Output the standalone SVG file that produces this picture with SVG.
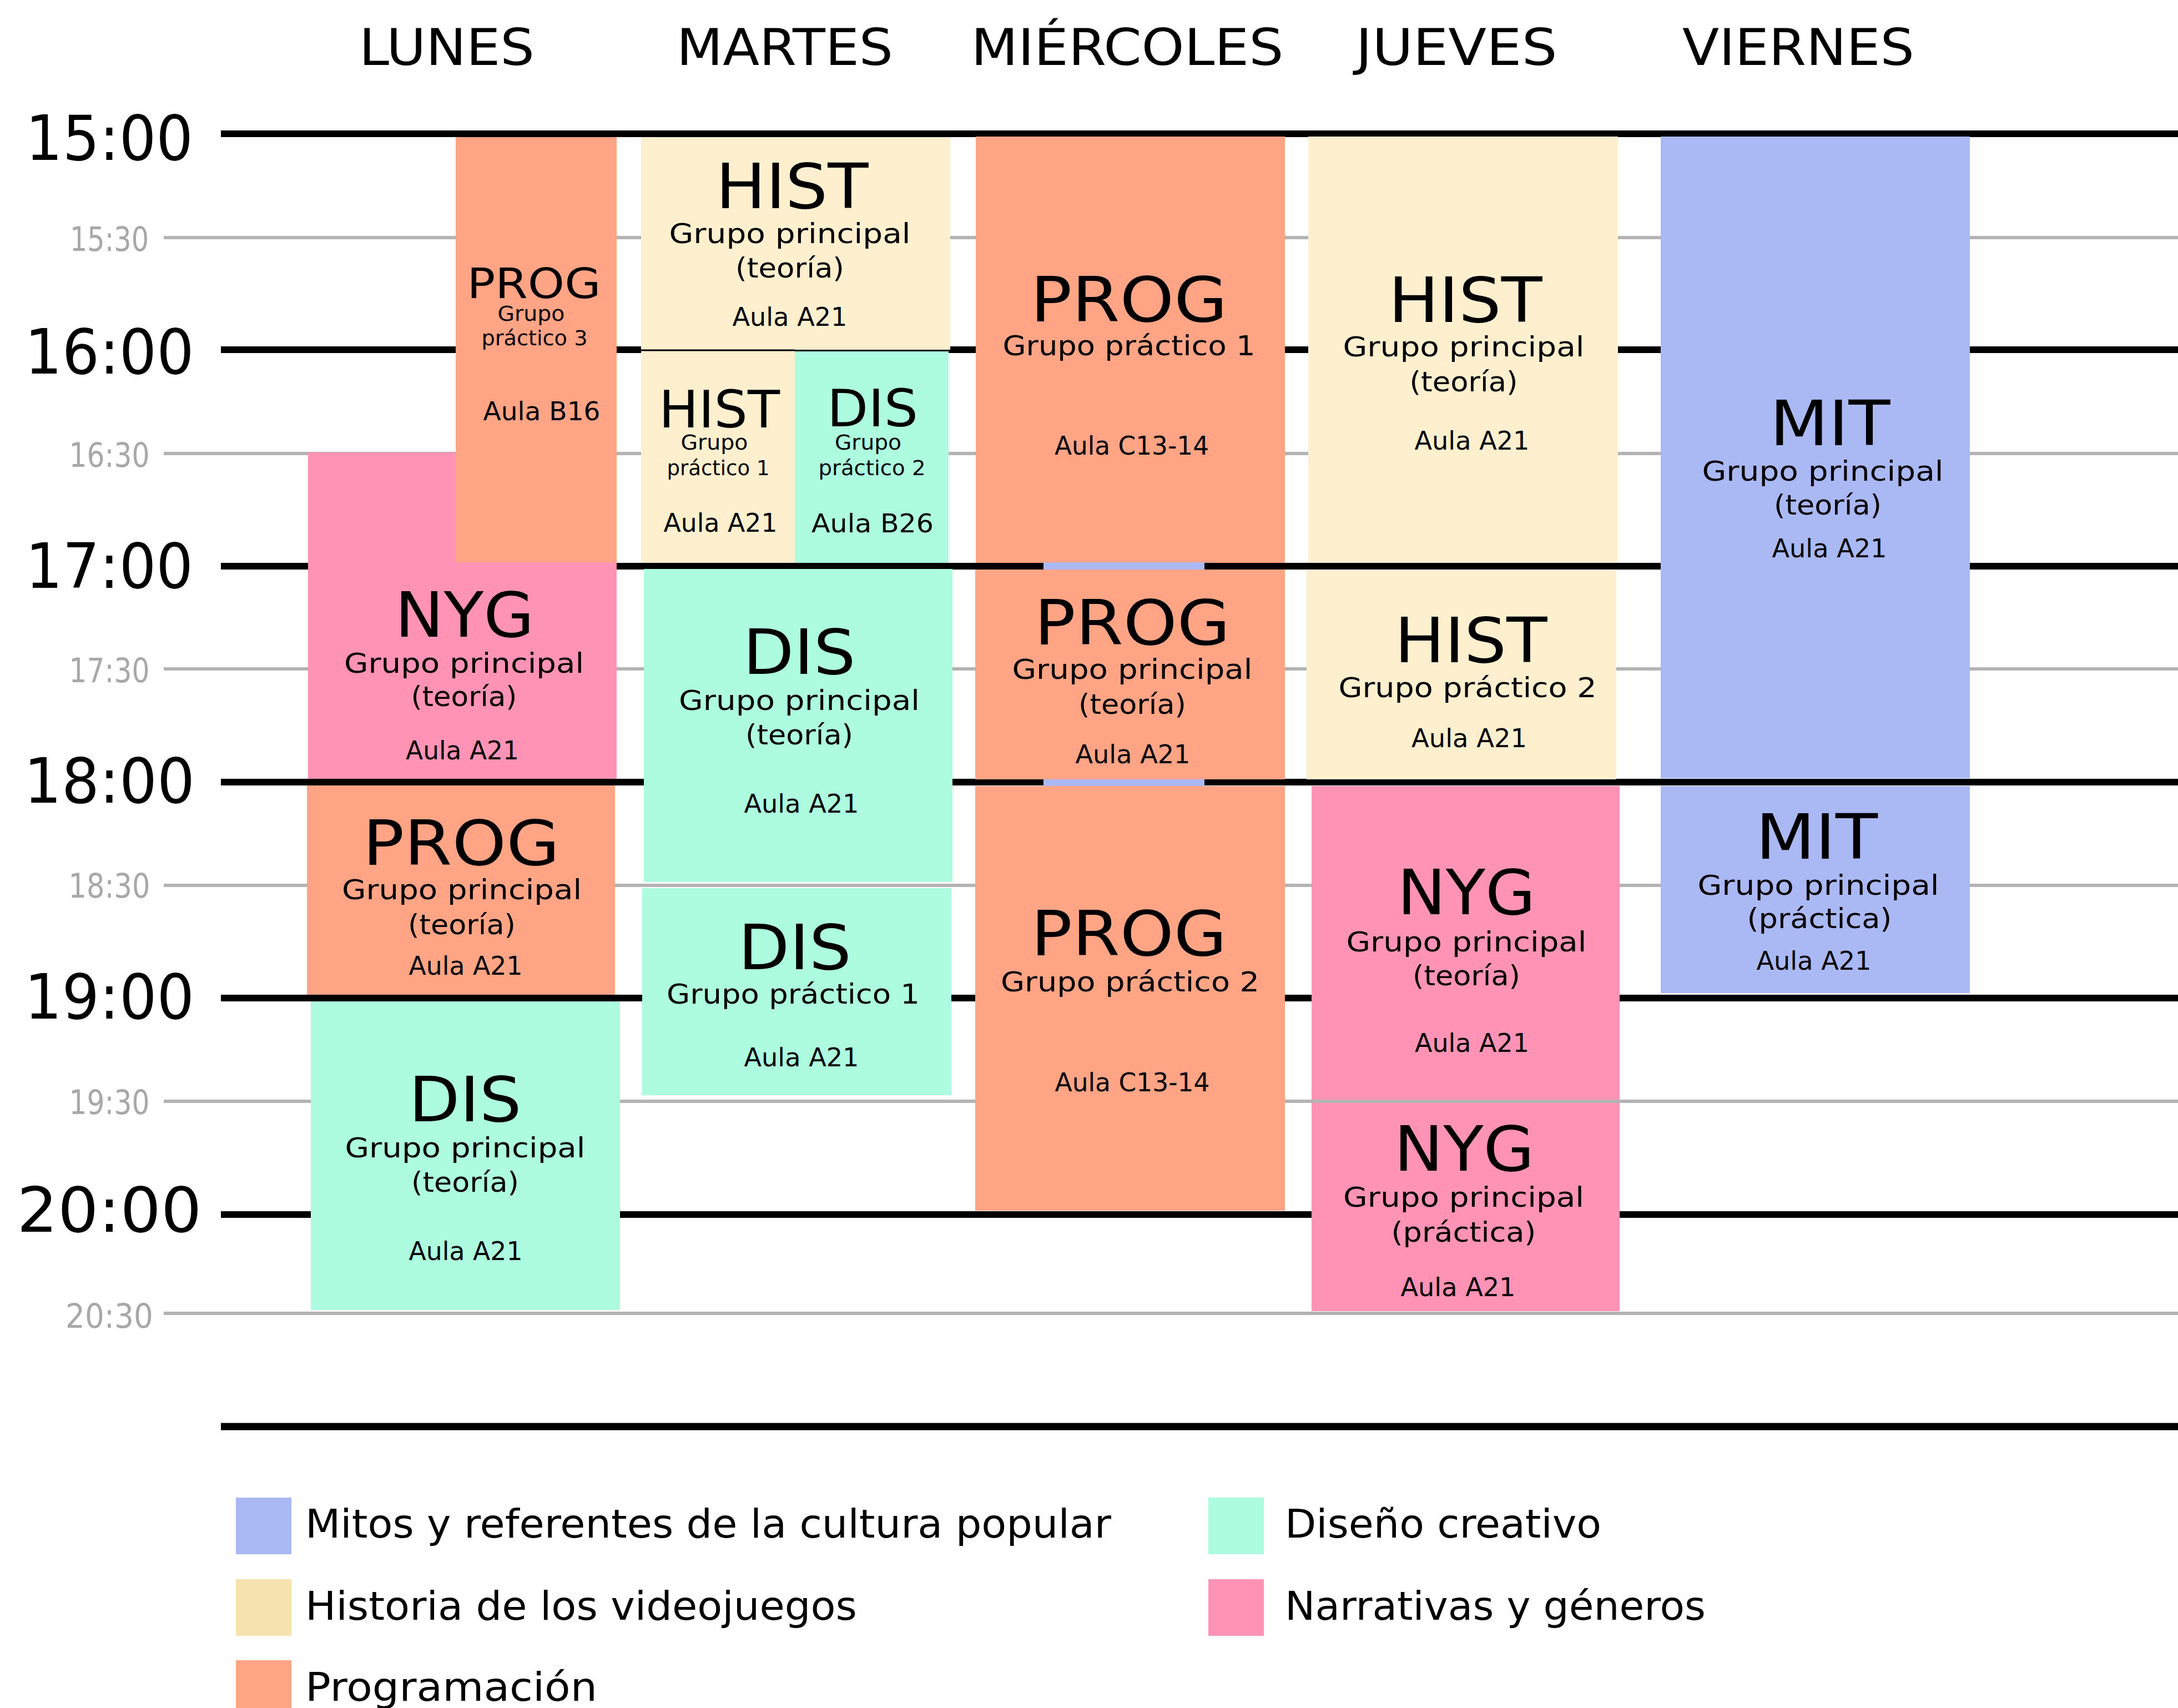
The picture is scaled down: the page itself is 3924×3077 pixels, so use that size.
<svg xmlns="http://www.w3.org/2000/svg" width="3924" height="3077" viewBox="0 0 3924 3077">
<style>
.bg{fill:#fff}
.hline{stroke:#000;stroke-width:12}
.gline{stroke:#b3b3b3;stroke-width:6}
.t{font-family:"DejaVu Sans","Liberation Sans",sans-serif;fill:#000;text-anchor:middle}
.hdr{font-size:90px}
.hr{font-size:112px}
.hh{font-size:60px;fill:#a8a8a8}
.code{font-size:112px}
.codem{font-size:93px}
.codes{font-size:74px}
.sub{font-size:50px}
.aula{font-size:47px}
.sm{font-size:38px}
.leg{font-size:72px;text-anchor:start}
.prog{fill:#FFA585}.hist{fill:#FEF0CE}.histl{fill:#F5E2AE}.dis{fill:#AEFCDF}.nyg{fill:#FF93B6}.mit{fill:#AAB8F3}
</style>
<rect class="bg" x="0" y="0" width="3924" height="3077"/>

<g id="headers">
<text class="t hdr" x="805" y="117" textLength="316" lengthAdjust="spacingAndGlyphs">LUNES</text>
<text class="t hdr" x="1414" y="117" textLength="390" lengthAdjust="spacingAndGlyphs">MARTES</text>
<text class="t hdr" x="2031" y="117" textLength="563" lengthAdjust="spacingAndGlyphs">MIÉRCOLES</text>
<text class="t hdr" x="2624" y="117" textLength="363" lengthAdjust="spacingAndGlyphs">JUEVES</text>
<text class="t hdr" x="3240" y="117" textLength="418" lengthAdjust="spacingAndGlyphs">VIERNES</text>
</g>

<g id="grid">
<line class="gline" x1="295" y1="428" x2="3924" y2="428"/>
<line class="gline" x1="295" y1="817" x2="3924" y2="817"/>
<line class="gline" x1="295" y1="1205" x2="3924" y2="1205"/>
<line class="gline" x1="295" y1="1595" x2="3924" y2="1595"/>
<line class="gline" x1="295" y1="1984" x2="3924" y2="1984"/>
<line class="gline" x1="295" y1="2366" x2="3924" y2="2366"/>
<line class="hline" x1="398" y1="241" x2="3924" y2="241"/>
<line class="hline" x1="398" y1="630" x2="3924" y2="630"/>
<line class="hline" x1="398" y1="1020" x2="3924" y2="1020"/>
<line class="hline" x1="398" y1="1409" x2="3924" y2="1409"/>
<line class="hline" x1="398" y1="1798" x2="3924" y2="1798"/>
<line class="hline" x1="398" y1="2188" x2="3924" y2="2188"/>
<line class="hline" x1="398" y1="2570" x2="3924" y2="2570" style="stroke-width:13"/>
</g>

<g id="time-labels">
<text class="t hr" x="197" y="288" textLength="302" lengthAdjust="spacingAndGlyphs">15:00</text>
<text class="t hr" x="197" y="673" textLength="305" lengthAdjust="spacingAndGlyphs">16:00</text>
<text class="t hr" x="197" y="1059" textLength="302" lengthAdjust="spacingAndGlyphs">17:00</text>
<text class="t hr" x="197" y="1446" textLength="308" lengthAdjust="spacingAndGlyphs">18:00</text>
<text class="t hr" x="197" y="1835" textLength="306" lengthAdjust="spacingAndGlyphs">19:00</text>
<text class="t hr" x="197" y="2219" textLength="333" lengthAdjust="spacingAndGlyphs">20:00</text>
<text class="t hh" x="197" y="452" textLength="142" lengthAdjust="spacingAndGlyphs">15:30</text>
<text class="t hh" x="197" y="841" textLength="145" lengthAdjust="spacingAndGlyphs">16:30</text>
<text class="t hh" x="197" y="1229" textLength="145" lengthAdjust="spacingAndGlyphs">17:30</text>
<text class="t hh" x="197" y="1617" textLength="147" lengthAdjust="spacingAndGlyphs">18:30</text>
<text class="t hh" x="197" y="2007" textLength="145" lengthAdjust="spacingAndGlyphs">19:30</text>
<text class="t hh" x="197" y="2392" textLength="158" lengthAdjust="spacingAndGlyphs">20:30</text>
</g>

<g id="lun-nyg">
<rect class="nyg" x="555" y="815" width="556" height="588"/>
<text class="t code" x="837" y="1147" textLength="251" lengthAdjust="spacingAndGlyphs">NYG</text>
<text class="t sub" x="836" y="1212" textLength="432" lengthAdjust="spacingAndGlyphs">Grupo principal</text>
<text class="t sub" x="836" y="1272" textLength="191" lengthAdjust="spacingAndGlyphs">(teoría)</text>
<text class="t aula" x="833" y="1368" textLength="204" lengthAdjust="spacingAndGlyphs">Aula A21</text>
</g>
<g id="lun-prog-p3">
<rect class="prog" x="821" y="247" width="290" height="766"/>
<text class="t codes" x="962" y="537" textLength="241" lengthAdjust="spacingAndGlyphs">PROG</text>
<text class="t sm" x="957" y="578" textLength="121" lengthAdjust="spacingAndGlyphs">Grupo</text>
<text class="t sm" x="963" y="622" textLength="191" lengthAdjust="spacingAndGlyphs">práctico 3</text>
<text class="t aula" x="976" y="757" textLength="211" lengthAdjust="spacingAndGlyphs">Aula B16</text>
</g>
<g id="lun-prog">
<rect class="prog" x="553" y="1415" width="555" height="377"/>
<text class="t code" x="831" y="1558" textLength="355" lengthAdjust="spacingAndGlyphs">PROG</text>
<text class="t sub" x="832" y="1620" textLength="432" lengthAdjust="spacingAndGlyphs">Grupo principal</text>
<text class="t sub" x="832" y="1683" textLength="194" lengthAdjust="spacingAndGlyphs">(teoría)</text>
<text class="t aula" x="839" y="1756" textLength="205" lengthAdjust="spacingAndGlyphs">Aula A21</text>
</g>
<g id="lun-dis">
<rect class="dis" x="560" y="1804" width="557" height="556"/>
<text class="t code" x="838" y="2020" textLength="203" lengthAdjust="spacingAndGlyphs">DIS</text>
<text class="t sub" x="838" y="2085" textLength="433" lengthAdjust="spacingAndGlyphs">Grupo principal</text>
<text class="t sub" x="838" y="2147" textLength="194" lengthAdjust="spacingAndGlyphs">(teoría)</text>
<text class="t aula" x="839" y="2270" textLength="205" lengthAdjust="spacingAndGlyphs">Aula A21</text>
</g>

<g id="mar-hist">
<rect class="hist" x="1155" y="247" width="557" height="383"/>
<text class="t code" x="1427" y="375" textLength="275" lengthAdjust="spacingAndGlyphs">HIST</text>
<text class="t sub" x="1423" y="438" textLength="435" lengthAdjust="spacingAndGlyphs">Grupo principal</text>
<text class="t sub" x="1423" y="500" textLength="196" lengthAdjust="spacingAndGlyphs">(teoría)</text>
<text class="t aula" x="1423" y="587" textLength="207" lengthAdjust="spacingAndGlyphs">Aula A21</text>
</g>
<g id="mar-hist-p1">
<rect class="hist" x="1155" y="631" width="277" height="383"/>
<line x1="1155" y1="631" x2="1432" y2="631" stroke="#000" stroke-width="3"/>
<text class="t codem" x="1296" y="770" textLength="218" lengthAdjust="spacingAndGlyphs">HIST</text>
<text class="t sm" x="1287" y="810" textLength="121" lengthAdjust="spacingAndGlyphs">Grupo</text>
<text class="t sm" x="1294" y="856" textLength="185" lengthAdjust="spacingAndGlyphs">práctico 1</text>
<text class="t aula" x="1298" y="958" textLength="205" lengthAdjust="spacingAndGlyphs">Aula A21</text>
</g>
<g id="mar-dis-p2">
<rect class="dis" x="1432" y="633" width="277" height="381"/>
<text class="t codem" x="1572" y="768" textLength="164" lengthAdjust="spacingAndGlyphs">DIS</text>
<text class="t sm" x="1564" y="810" textLength="120" lengthAdjust="spacingAndGlyphs">Grupo</text>
<text class="t sm" x="1571" y="856" textLength="193" lengthAdjust="spacingAndGlyphs">práctico 2</text>
<text class="t aula" x="1572" y="959" textLength="220" lengthAdjust="spacingAndGlyphs">Aula B26</text>
</g>
<g id="mar-dis">
<rect class="dis" x="1160" y="1025" width="556" height="564"/>
<text class="t code" x="1440" y="1214" textLength="203" lengthAdjust="spacingAndGlyphs">DIS</text>
<text class="t sub" x="1440" y="1279" textLength="434" lengthAdjust="spacingAndGlyphs">Grupo principal</text>
<text class="t sub" x="1440" y="1341" textLength="194" lengthAdjust="spacingAndGlyphs">(teoría)</text>
<text class="t aula" x="1444" y="1464" textLength="207" lengthAdjust="spacingAndGlyphs">Aula A21</text>
</g>
<g id="mar-dis-p1">
<rect class="dis" x="1157" y="1600" width="557" height="373"/>
<text class="t code" x="1432" y="1746" textLength="204" lengthAdjust="spacingAndGlyphs">DIS</text>
<text class="t sub" x="1429" y="1808" textLength="456" lengthAdjust="spacingAndGlyphs">Grupo práctico 1</text>
<text class="t aula" x="1444" y="1921" textLength="207" lengthAdjust="spacingAndGlyphs">Aula A21</text>
</g>

<g id="mie-prog-p1">
<rect class="prog" x="1758" y="246" width="557" height="768"/>
<text class="t code" x="2034" y="579" textLength="355" lengthAdjust="spacingAndGlyphs">PROG</text>
<text class="t sub" x="2034" y="640" textLength="455" lengthAdjust="spacingAndGlyphs">Grupo práctico 1</text>
<text class="t aula" x="2039" y="819" textLength="278" lengthAdjust="spacingAndGlyphs">Aula C13-14</text>
</g>
<g id="mie-mit-strip">
<rect class="mit" x="1880" y="1013" width="290" height="403"/>
</g>
<g id="mie-prog">
<rect class="prog" x="1757" y="1026" width="558" height="378"/>
<text class="t code" x="2040" y="1161" textLength="353" lengthAdjust="spacingAndGlyphs">PROG</text>
<text class="t sub" x="2040" y="1223" textLength="433" lengthAdjust="spacingAndGlyphs">Grupo principal</text>
<text class="t sub" x="2040" y="1286" textLength="194" lengthAdjust="spacingAndGlyphs">(teoría)</text>
<text class="t aula" x="2041" y="1375" textLength="207" lengthAdjust="spacingAndGlyphs">Aula A21</text>
</g>
<g id="mie-prog-p2">
<rect class="prog" x="1757" y="1416" width="558" height="765"/>
<text class="t code" x="2034" y="1721" textLength="353" lengthAdjust="spacingAndGlyphs">PROG</text>
<text class="t sub" x="2036" y="1786" textLength="466" lengthAdjust="spacingAndGlyphs">Grupo práctico 2</text>
<text class="t aula" x="2040" y="1966" textLength="279" lengthAdjust="spacingAndGlyphs">Aula C13-14</text>
</g>

<g id="jue-hist">
<rect class="hist" x="2357" y="246" width="558" height="767"/>
<text class="t code" x="2640" y="580" textLength="277" lengthAdjust="spacingAndGlyphs">HIST</text>
<text class="t sub" x="2637" y="642" textLength="435" lengthAdjust="spacingAndGlyphs">Grupo principal</text>
<text class="t sub" x="2637" y="705" textLength="195" lengthAdjust="spacingAndGlyphs">(teoría)</text>
<text class="t aula" x="2652" y="810" textLength="207" lengthAdjust="spacingAndGlyphs">Aula A21</text>
</g>
<g id="jue-hist-p2">
<rect class="hist" x="2354" y="1027" width="558" height="377"/>
<text class="t code" x="2650" y="1193" textLength="275" lengthAdjust="spacingAndGlyphs">HIST</text>
<text class="t sub" x="2644" y="1256" textLength="465" lengthAdjust="spacingAndGlyphs">Grupo práctico 2</text>
<text class="t aula" x="2647" y="1346" textLength="208" lengthAdjust="spacingAndGlyphs">Aula A21</text>
</g>
<g id="jue-nyg">
<rect class="nyg" x="2363" y="1416" width="555" height="565"/>
<text class="t code" x="2642" y="1647" textLength="249" lengthAdjust="spacingAndGlyphs">NYG</text>
<text class="t sub" x="2642" y="1714" textLength="433" lengthAdjust="spacingAndGlyphs">Grupo principal</text>
<text class="t sub" x="2642" y="1775" textLength="194" lengthAdjust="spacingAndGlyphs">(teoría)</text>
<text class="t aula" x="2652" y="1895" textLength="206" lengthAdjust="spacingAndGlyphs">Aula A21</text>
</g>
<g id="jue-nyg-pr">
<rect class="nyg" x="2363" y="1987" width="555" height="375"/>
<text class="t code" x="2638" y="2109" textLength="253" lengthAdjust="spacingAndGlyphs">NYG</text>
<text class="t sub" x="2637" y="2174" textLength="434" lengthAdjust="spacingAndGlyphs">Grupo principal</text>
<text class="t sub" x="2637" y="2237" textLength="261" lengthAdjust="spacingAndGlyphs">(práctica)</text>
<text class="t aula" x="2627" y="2335" textLength="207" lengthAdjust="spacingAndGlyphs">Aula A21</text>
</g>

<g id="vie-mit">
<rect class="mit" x="2992" y="246" width="557" height="1156"/>
<text class="t code" x="3297" y="802" textLength="217" lengthAdjust="spacingAndGlyphs">MIT</text>
<text class="t sub" x="3284" y="866" textLength="435" lengthAdjust="spacingAndGlyphs">Grupo principal</text>
<text class="t sub" x="3293" y="927" textLength="194" lengthAdjust="spacingAndGlyphs">(teoría)</text>
<text class="t aula" x="3296" y="1004" textLength="207" lengthAdjust="spacingAndGlyphs">Aula A21</text>
</g>
<g id="vie-mit-pr">
<rect class="mit" x="2992" y="1416" width="557" height="373"/>
<text class="t code" x="3273" y="1547" textLength="220" lengthAdjust="spacingAndGlyphs">MIT</text>
<text class="t sub" x="3276" y="1612" textLength="435" lengthAdjust="spacingAndGlyphs">Grupo principal</text>
<text class="t sub" x="3278" y="1672" textLength="261" lengthAdjust="spacingAndGlyphs">(práctica)</text>
<text class="t aula" x="3268" y="1747" textLength="207" lengthAdjust="spacingAndGlyphs">Aula A21</text>
</g>

<g id="legend">
<rect class="mit" x="425" y="2698" width="100" height="102"/>
<text class="t leg" x="550" y="2770" textLength="1452" lengthAdjust="spacingAndGlyphs">Mitos y referentes de la cultura popular</text>
<rect class="histl" x="425" y="2845" width="100" height="102"/>
<text class="t leg" x="550" y="2918" textLength="994" lengthAdjust="spacingAndGlyphs">Historia de los videojuegos</text>
<rect class="prog" x="425" y="2991" width="100" height="102"/>
<text class="t leg" x="550" y="3064" textLength="526" lengthAdjust="spacingAndGlyphs">Programación</text>
<rect class="dis" x="2177" y="2698" width="100" height="102"/>
<text class="t leg" x="2315" y="2770" textLength="570" lengthAdjust="spacingAndGlyphs">Diseño creativo</text>
<rect class="nyg" x="2177" y="2845" width="100" height="102"/>
<text class="t leg" x="2315" y="2918" textLength="758" lengthAdjust="spacingAndGlyphs">Narrativas y géneros</text>
</g>
</svg>
